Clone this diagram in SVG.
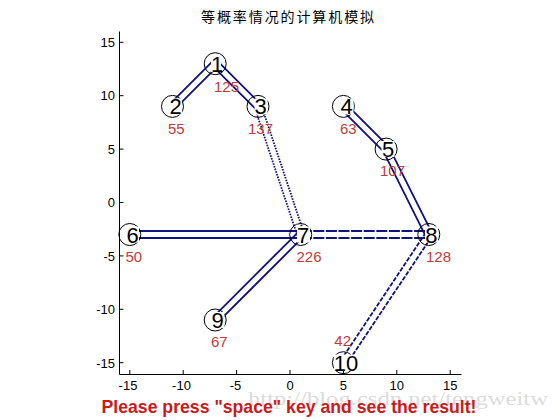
<svg xmlns="http://www.w3.org/2000/svg" width="560" height="420" viewBox="0 0 560 420">
<style>
.ax{stroke:#000;stroke-width:1;fill:none}
.tk{font-family:"Liberation Sans",Arial,sans-serif;font-size:13px;fill:#000}
.e{stroke:#10107f;stroke-width:1.8;fill:none}
.dot{stroke-dasharray:1.6 1.2}
.dash{stroke-dasharray:11 1.6}
.dd{stroke-dasharray:4.5 1.5}
.nc{fill:none;stroke:#000;stroke-width:1}
.nb{fill:#fff}
.nt{font-family:"Liberation Sans",Arial,sans-serif;font-size:22px;fill:#000;text-anchor:middle}
.w{font-family:"Liberation Sans",Arial,sans-serif;font-size:15px;fill:#c23b3b}
</style>
<rect width="560" height="420" fill="#fff"/>
<text x="288.5" y="22" font-family="'Noto Sans CJK SC',sans-serif" font-size="14" letter-spacing="1.9" text-anchor="middle" fill="#000">等概率情况的计算机模拟</text>
<g id="axes">
<path class="ax" d="M119.5 31.5V374.5H461.5"/>
<path class="ax" d="M129.8 374V370M183.2 374V370M236.6 374V370M290 374V370M343.4 374V370M396.8 374V370M450.2 374V370"/>
<path class="ax" d="M119.5 362.7H123.5M119.5 309.3H123.5M119.5 255.9H123.5M119.5 202.5H123.5M119.5 149.1H123.5M119.5 95.7H123.5M119.5 42.3H123.5"/>
<g class="tk" text-anchor="end">
<text x="115" y="367.5">-15</text><text x="115" y="314">-10</text><text x="115" y="260.5">-5</text><text x="115" y="207">0</text><text x="115" y="153.5">5</text><text x="115" y="100">10</text><text x="115" y="46.5">15</text>
</g>
<g class="tk" text-anchor="middle">
<text x="128" y="390">-15</text><text x="181.5" y="390">-10</text><text x="235.5" y="390">-5</text><text x="290" y="390">0</text><text x="343.4" y="390">5</text><text x="396.8" y="390">10</text><text x="450.2" y="390">15</text>
</g>
</g>
<g id="connectors">
<path class="e" d="M174.97 108.87L217.67 66.17M170.03 103.93L212.73 61.23"/>
<path class="e" d="M212.73 66.17L255.53 108.87M217.67 61.23L260.47 103.93"/>
<path class="e dot" d="M254.68 107.51L297.38 235.61M261.32 105.29L304.02 233.39"/>
<path class="e" d="M340.93 108.87L383.63 151.57M345.87 103.93L388.57 146.63"/>
<path class="e" d="M382.97 150.67L425.67 236.07M389.23 147.53L431.93 232.93"/>
<path class="e" d="M129.8 231L300.7 231M129.8 238L300.7 238"/>
<path class="e dash" d="M300.7 231L428.8 231M300.7 238L428.8 238"/>
<path class="e" d="M303.17 236.97L217.67 322.47M298.23 232.03L212.73 317.53"/>
<path class="e dd" d="M431.71 236.44L346.31 364.64M425.89 232.56L340.49 360.76"/>
</g>
<g id="n1"><circle class="nc" cx="215.2" cy="63.7" r="11"/><rect class="nb" x="211" y="56" width="10" height="16"/><text class="nt" x="217" y="71.7">1</text><text class="w" x="214" y="91.5">125</text></g>
<g id="n2"><circle class="nc" cx="172.5" cy="106.4" r="11"/><rect class="nb" x="169" y="98.5" width="13" height="16"/><text class="nt" x="175.5" y="114.4">2</text><text class="w" x="168" y="134">55</text></g>
<g id="n3"><circle class="nc" cx="258" cy="106.4" r="11"/><rect class="nb" x="254.5" y="98.5" width="13" height="16"/><text class="nt" x="260.5" y="114.4">3</text><text class="w" x="248" y="134">137</text></g>
<g id="n4"><circle class="nc" cx="343.4" cy="106.4" r="11"/><rect class="nb" x="339.5" y="98.5" width="14" height="16"/><text class="nt" x="346.5" y="114.4">4</text><text class="w" x="340" y="133.5">63</text></g>
<g id="n5"><circle class="nc" cx="386.1" cy="149.1" r="11"/><rect class="nb" x="381.5" y="141" width="13" height="16"/><text class="nt" x="388" y="157.1">5</text><text class="w" x="380" y="176">107</text></g>
<g id="n6"><circle class="nc" cx="129.8" cy="234.5" r="11"/><rect class="nb" x="126" y="226.5" width="13" height="16"/><text class="nt" x="132.5" y="242.5">6</text><text class="w" x="125.5" y="261.7">50</text></g>
<g id="n7"><circle class="nc" cx="300.7" cy="234.5" r="11"/><rect class="nb" x="297" y="226.5" width="13" height="16"/><text class="nt" x="303.2" y="242.5">7</text><text class="w" x="296.5" y="261.7">226</text></g>
<g id="n8"><circle class="nc" cx="428.8" cy="234.5" r="11"/><rect class="nb" x="425" y="226.5" width="13" height="16"/><text class="nt" x="431.3" y="242.5">8</text><text class="w" x="426" y="261.7">128</text></g>
<g id="n9"><circle class="nc" cx="215.2" cy="320" r="11"/><rect class="nb" x="211.5" y="312" width="13" height="16"/><text class="nt" x="217.7" y="328">9</text><text class="w" x="211" y="346.7">67</text></g>
<g id="n10"><circle class="nc" cx="343.4" cy="362.7" r="11"/><rect class="nb" x="334" y="354.5" width="24" height="16"/><text class="nt" x="346" y="370.7">10</text><text class="w" x="334.3" y="346.2">42</text></g>
<text x="248" y="405" font-family="'Liberation Serif',serif" font-size="19" fill="#dcdcdc" textLength="300" lengthAdjust="spacingAndGlyphs">http://blog.csdn.net/tengweitw</text>
<text x="289" y="413" font-family="'Liberation Sans',Arial,sans-serif" font-size="19" font-weight="bold" fill="#cc1a1a" text-anchor="middle" textLength="375" lengthAdjust="spacingAndGlyphs">Please press "space" key and see the result!</text>
</svg>
